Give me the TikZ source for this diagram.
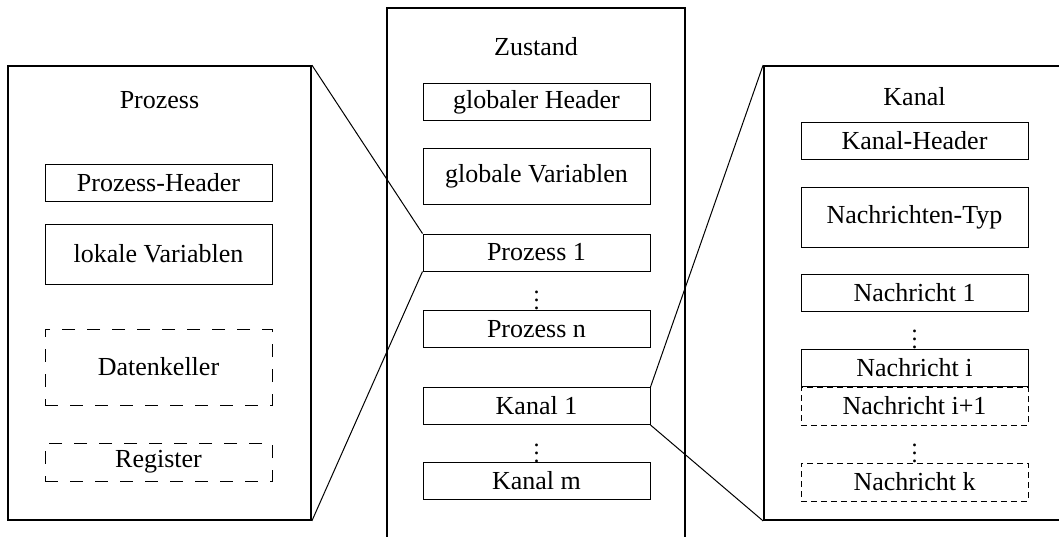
\documentclass[tikz,border=0pt]{standalone}
\usepackage{fontspec}
\setmainfont{Liberation Serif}
\begin{document}
\begin{tikzpicture}[x=0.5pt,y=-0.5pt,
  panel/.style={draw,line width=0.9pt,inner sep=0pt,minimum width=#1},
  field/.style={draw,line width=0.5pt,inner sep=0pt,minimum width=113.5pt,minimum height=#1},
  field/.default=18.5pt,
  longdash/.style={dash pattern=on 6.5pt off 6pt},
  shortdash/.style={dash pattern=on 3pt off 2pt},
  title/.style={inner sep=0pt},
  gap/.style={inner sep=0pt,font=\fontsize{12}{12}\selectfont},
  link/.style={line width=0.5pt},
  every node/.style={font=\fontsize{13}{15}\selectfont}]
\useasboundingbox (0,0) rectangle (1059,536);

% process panel
\node[panel=151.5pt,minimum height=227pt] (lp) at (159.5,293) {};
\node[title] (lpt) at (159.5,100) {Prozess};
\node[field] (ph) at (158.5,182.5) {Prozess-Header};
\node[field=30pt] (lv) at (158.5,254) {lokale Variablen};
\node[field=38pt,longdash] (dk) at (158.5,367) {Datenkeller};
\node[field=19pt,longdash] (rg) at (158.5,462) {Register};

% state panel
\node[panel=149pt,minimum height=268pt] (mp) at (536,276) {};
\node[title] (mpt) at (536,47) {Zustand};
\node[field] (gh) at (536.5,102) {globaler Header};
\node[field=28pt] (gv) at (536.5,176) {globale Variablen};
\node[field] (p1) at (536.5,252.5) {Prozess 1};
\node[gap] (pd) at (536.5,294) {$\vdots$};
\node[field] (pn) at (536.5,329) {Prozess n};
\node[field] (k1) at (536.5,406) {Kanal 1};
\node[gap] (kd) at (536.5,447) {$\vdots$};
\node[field] (km) at (536.5,481) {Kanal m};

% channel panel (runs past the right margin)
\node[panel=154pt,minimum height=227pt] (rp) at (918,293) {};
\node[title] (rpt) at (914.5,97) {Kanal};
\node[field] (kh) at (914.5,141) {Kanal-Header};
\node[field=30pt] (nt) at (914.5,217) {Nachrichten-Typ};
\node[field] (n1) at (914.5,292.5) {Nachricht 1};
\node[gap] (nd1) at (914.5,333) {$\vdots$};
\node[field=19pt,shortdash] (nip) at (914.5,406) {Nachricht i+1};
\node[field] (ni) at (914.5,368) {Nachricht i};
\node[gap] (nd2) at (914.5,447) {$\vdots$};
\node[field=19pt,shortdash] (nk) at (914.5,482) {Nachricht k};

% zoom lines
\draw[link] (lp.north east) -- (p1.north west);
\draw[link] (lp.south east) -- (p1.south west);
\draw[link] (k1.north east) -- (rp.north west);
\draw[link] (k1.south east) -- (rp.south west);
\end{tikzpicture}
\end{document}
